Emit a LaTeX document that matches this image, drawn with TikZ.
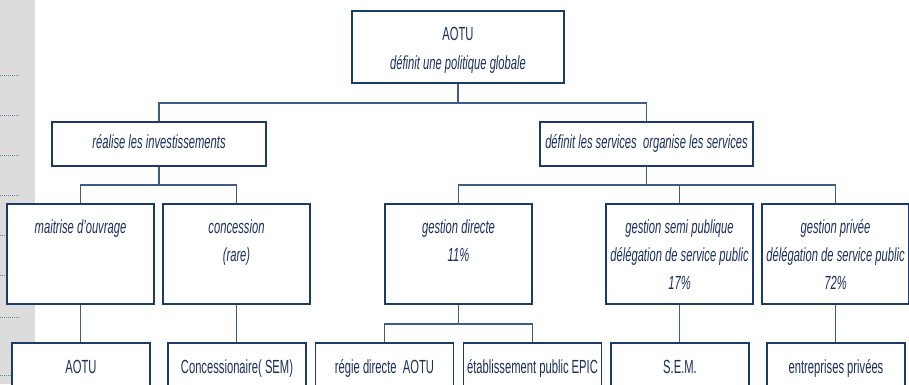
\documentclass[tikz,border=0pt]{standalone}
\usepackage{fontspec}
\setmainfont{Liberation Sans}[FakeStretch=0.59]
\definecolor{txt}{HTML}{1B2F5E}
\definecolor{boxc}{HTML}{1C3A6A}
\definecolor{linec}{HTML}{3E5C87}
\definecolor{barc}{HTML}{DCDCDC}
\definecolor{dashc}{HTML}{5A8A94}
\begin{document}
\begin{tikzpicture}[x=1pt,y=-1pt,
  every node/.style={text=txt},
  boxn/.style={draw=boxc, line width=1.4pt, fill=white, rectangle, inner sep=0pt},
  tbox/.style={boxn, minimum width=147pt, minimum height=100pt},
  bbox/.style={boxn, minimum width=138pt, minimum height=60pt},
  mbox/.style={boxn, minimum height=44pt, text height=13.5pt, text depth=4pt,
    font=\fontsize{19}{28}\selectfont\itshape},
  ttext/.style={anchor=north, align=center, inner sep=0pt, font=\fontsize{19}{28}\selectfont\itshape},
  btext/.style={anchor=base, inner sep=0pt, font=\fontsize{19}{28}\selectfont},
  conn/.style={draw=linec, line width=1.1pt},
  marg/.style={draw=dashc, line width=0.8pt, dash pattern=on 1.2pt off 0.8pt}]
\useasboundingbox (0,0) rectangle (909,384);
\clip (0,0) rectangle (909,384);
% grey margin
\fill[barc] (0,0) rectangle (35,384);
\foreach \yy in {75,115,155,195,235,275,317,375} {\draw[marg] (0,\yy) -- (20,\yy);}
% junction coordinates
\coordinate (busA) at (458,103);
\coordinate (busB) at (159,185);
\coordinate (busC) at (646.5,185);
\coordinate (busD) at (458.5,324);
% boxes
\node[boxn, minimum width=212pt, minimum height=72pt] (top) at (458,47) {};
\node[mbox, minimum width=214pt] (l2a) at (159,144) {réalise les investissements};
\node[mbox, minimum width=213pt] (l2b) at (646.5,144) {définit les services\ \ organise les services};
\node[tbox] (l3a) at (80.5,254) {};
\node[tbox] (l3b) at (236.5,254) {};
\node[tbox] (l3c) at (458.5,254) {};
\node[tbox] (l3d) at (679.5,254) {};
\node[tbox] (l3e) at (835.5,254) {};
\node[bbox] (l4a) at (81,373) {};
\node[bbox] (l4b) at (237,373) {};
\node[bbox] (l4c) at (384.5,373) {};
\node[bbox] (l4d) at (532.5,373) {};
\node[bbox] (l4e) at (680,373) {};
\node[bbox] (l4f) at (836,373) {};
% connectors
\draw[conn] (top.south) -- (busA) -| (l2a.north);
\draw[conn] (busA) -| (l2b.north);
\draw[conn] (l2a.south) -- (busB);
\draw[conn] (l3a.north) |- (busB) -| (l3b.north);
\draw[conn] (l2b.south) -- (busC);
\draw[conn] (l3c.north) |- (busC) -| (l3e.north);
\draw[conn] (busC) -| (l3d.north);
\draw[conn] (l3a.south) -- (l3a.south |- l4a.north);
\draw[conn] (l3b.south) -- (l3b.south |- l4b.north);
\draw[conn] (l3c.south) -- (busD);
\draw[conn] (l4c.north) |- (busD) -| (l4d.north);
\draw[conn] (l3d.south) -- (l3d.south |- l4e.north);
\draw[conn] (l3e.south) -- (l3e.south |- l4f.north);
% texts
\node[ttext, font=\fontsize{19}{29}\selectfont] (ttop) at (458,20) {\strut AOTU\\ \itshape définit une politique globale};
\node[ttext] (t3a) at (80.5,214) {\strut maitrise d'ouvrage};
\node[ttext] (t3b) at (236.5,214) {\strut concession\\ (rare)};
\node[ttext] (t3c) at (458.5,214) {\strut gestion directe\\ 11\%};
\node[ttext] (t3d) at (679.5,214) {\strut gestion semi publique\\ délégation de service public\\ 17\%};
\node[ttext] (t3e) at (835.5,214) {\strut gestion privée\\ délégation de service public\\ 72\%};
\node[btext] (t4a) at (81,373) {AOTU};
\node[btext] (t4b) at (237,373) {Concessionaire( SEM)};
\node[btext] (t4c) at (384.5,373) {régie directe\ \ AOTU};
\node[btext] (t4d) at (532.5,373) {établissement public EPIC};
\node[btext] (t4e) at (680,373) {S.E.M.};
\node[btext] (t4f) at (836,373) {entreprises privées};
\end{tikzpicture}
\end{document}
